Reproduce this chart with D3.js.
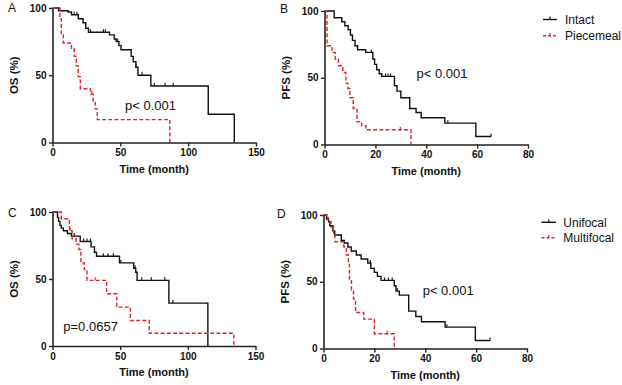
<!DOCTYPE html>
<html><head><meta charset="utf-8">
<script src="https://cdn.jsdelivr.net/npm/d3@7"></script>
<style>
body{margin:0;background:#fff;}
svg{display:block;font-family:"Liberation Sans",Arial,sans-serif;}
</style>
</head><body>
<svg id="chart" width="622" height="385"></svg>
<script>
// ---------- tick labels ----------
const ticksTime150 = [0, 50, 100, 150];
const ticksTime80 = [0, 20, 40, 60, 80];
const ticksPct = [0, 50, 100];

// ---------- legend labels ----------
const legendResection = ["Intact", "Piecemeal"];
const legendFocality = ["Unifocal", "Multifocal"];

// ---------- p values ----------
const pA = "p< 0.001", pB = "p< 0.001", pC = "p=0.0657", pD = "p< 0.001";

// ---------- Panel A: OS by resection (step points [month, %]) ----------
const osIntact = [[0,100],[4.5,98],[11.5,97],[14,95],[19,92],[22.5,89],[24.5,85],[26.5,82],[42,80],[45.5,77],[47,75],[49,72],[50.5,69],[58,64],[59.5,60],[61.5,56],[63,50],[72.5,42],[114.8,21],[134,0]];
const osIntactCensor = [16, 18, 28, 37.5, 39, 48, 61.5, 66, 75, 83, 89];
const osPiecemeal = [[0,100],[5.5,92],[6.5,80],[8,74],[14,70],[16,64],[17.5,57],[19,49],[20.5,40],[28,36],[30,31],[31.5,25],[33,17],[86.5,0]];
const osPiecemealCensor = [29];

// ---------- Panel B: PFS by resection ----------
const pfsIntact = [[0,100],[3.8,95],[6.8,92],[8,89],[9.3,86],[10.2,82],[11,78],[12,74],[13,71],[16.2,69],[19,64],[19.7,60],[20.5,56],[21.5,53],[22.5,51],[27.5,44],[28.5,40],[30,35],[33.5,27],[36,24],[38,20],[47.3,16],[59.5,6],[65.5,6]];
const pfsIntactCensor = [18.4, 24, 25, 26, 48.5, 65.5];
const pfsPiecemeal = [[0,100],[1,74],[3,69],[4.2,64],[5.5,59],[7.2,54],[8.4,46],[9.2,42],[10,35],[11.3,27],[12.8,17],[14.6,14],[16.3,11],[34,0]];
const pfsPiecemealCensor = [29.8];

// ---------- Panel C: OS by focality ----------
const osUnifocal = [[0,100],[3.7,96],[4.5,93],[5.5,90],[6.5,88],[8,86],[11,84],[14,82],[20.5,78],[28.5,74],[31,70],[32.5,67],[49.5,62],[60,58],[61.5,55],[62.5,49],[86,32],[114.8,0]];
const osUnifocalCensor = [16, 23, 25.5, 28, 37.5, 41, 45, 50.5, 61, 66, 73, 83, 89];
const osMultifocal = [[0,100],[6.5,95],[12.5,86],[14.5,80],[17.5,76],[19.5,72],[21,62],[23.5,57],[25.5,49],[40,39],[47.5,29],[57.5,19],[71.5,9.5],[134,0]];
const osMultifocalCensor = [13, 31.5];

// ---------- Panel D: PFS by focality ----------
const pfsUnifocal = [[0,100],[1.2,97],[2,95],[2.5,92],[3.7,88],[4.4,85],[7,81],[8.2,79],[9.6,76],[10.9,73],[12.9,70],[14.8,67],[17.4,64],[18.6,60],[20,57],[21.2,54],[22.6,51],[27.8,47],[28.5,43],[29.8,40],[33.5,28],[36.3,24],[38.5,20],[47.8,16],[59.7,6],[65.5,6]];
const pfsUnifocalCensor = [18.4, 24, 25.5, 27, 29, 48.5, 65.5];
const pfsMultifocal = [[0,100],[1.8,95],[3,91],[4,85],[4.5,80],[8,76],[9,70],[9.8,63],[10.2,52],[11,44],[11.8,37],[12.6,27],[15.8,22],[20,11],[27.8,0]];
const pfsMultifocalCensor = [25];

// ---------- styling / layout ----------
const BLACK = "#111";
const RED = "#d8262c";
const svg = d3.select("#chart");

const panels = [
  {letter:"A", lx:8, ly:11.7, x0:52.5, x1:256, y0:142.5, y1:8, xMax:150, xTicks:ticksTime150, yTitle:"OS (%)",
   s1:osIntact, c1:osIntactCensor, s2:osPiecemeal, c2:osPiecemealCensor, p:pA, px:125, py:109.5, legend:null},
  {letter:"B", lx:280, ly:13.3, x0:324.5, x1:528, y0:144.5, y1:11, xMax:80, xTicks:ticksTime80, yTitle:"PFS (%)",
   s1:pfsIntact, c1:pfsIntactCensor, s2:pfsPiecemeal, c2:pfsPiecemealCensor, p:pB, px:416.5, py:77.5,
   legend:{labels:legendResection, lx0:543, lx1:557, tx:565, ty:19.5, dy:16.3}},
  {letter:"C", lx:8, ly:216.7, x0:52.5, x1:255.5, y0:346, y1:212, xMax:150, xTicks:ticksTime150, yTitle:"OS (%)",
   s1:osUnifocal, c1:osUnifocalCensor, s2:osMultifocal, c2:osMultifocalCensor, p:pC, px:63.3, py:331, legend:null},
  {letter:"D", lx:277, ly:217.5, x0:323.5, x1:527, y0:348.5, y1:215, xMax:80, xTicks:ticksTime80, yTitle:"PFS (%)",
   s1:pfsUnifocal, c1:pfsUnifocalCensor, s2:pfsMultifocal, c2:pfsMultifocalCensor, p:pD, px:422.7, py:295,
   legend:{labels:legendFocality, lx0:541.5, lx1:556, tx:563.3, ty:222.3, dy:15.5}}
];

function survAt(steps, t){
  let s = steps[0][1];
  for (const d of steps){ if (d[0] <= t) s = d[1]; else break; }
  return s;
}

function drawPanel(p){
  const g = svg.append("g");
  const x = d3.scaleLinear().domain([0, p.xMax]).range([p.x0, p.x1]);
  const y = d3.scaleLinear().domain([0, 100]).range([p.y0, p.y1]);
  const line = d3.line().x(d => x(d[0])).y(d => y(d[1])).curve(d3.curveStepAfter);

  // curves
  const series = [
    {steps:p.s1, cens:p.c1, color:BLACK, dash:null},
    {steps:p.s2, cens:p.c2, color:RED, dash:"4,2.2"}
  ];
  series.forEach(s => {
    g.append("path").attr("d", line(s.steps)).attr("fill","none")
      .attr("stroke", s.color).attr("stroke-width", 1.4)
      .attr("stroke-dasharray", s.dash);
    g.selectAll(null).data(s.cens).enter().append("line")
      .attr("x1", d => x(d)).attr("x2", d => x(d))
      .attr("y1", d => y(survAt(s.steps, d))).attr("y2", d => y(survAt(s.steps, d)) - 3)
      .attr("stroke", s.color).attr("stroke-width", 1.1);
  });

  // axes
  const xa = g.append("g").attr("transform", `translate(0,${p.y0})`)
    .call(d3.axisBottom(x).tickValues(p.xTicks).tickSize(4).tickSizeOuter(0).tickPadding(2.5));
  const ya = g.append("g").attr("transform", `translate(${p.x0},0)`)
    .call(d3.axisLeft(y).tickValues(ticksPct).tickSize(3.5).tickSizeOuter(0).tickPadding(2.5));
  [xa, ya].forEach(a => {
    a.select(".domain").attr("stroke", "#222").attr("stroke-width", 1.6);
    a.selectAll(".tick line").attr("stroke", "#222").attr("stroke-width", 1.4);
    a.selectAll(".tick text").attr("fill", "#111").style("font-size", "10px").style("font-weight", "bold")
      .style("font-family", '"Liberation Sans",Arial,sans-serif');
  });

  // axis titles
  g.append("text").attr("x", (p.x0 + p.x1) / 2).attr("y", p.y0 + 30)
    .attr("text-anchor", "middle").attr("font-size", 11).attr("font-weight", "bold").attr("fill", "#111")
    .text("Time (month)");
  g.append("text").attr("transform", `translate(${p.x0 - 35},${(p.y0 + p.y1) / 2}) rotate(-90)`)
    .attr("text-anchor", "middle").attr("font-size", 11.5).attr("font-weight", "bold").attr("fill", "#111")
    .text(p.yTitle);

  // panel letter
  g.append("text").attr("x", p.lx).attr("y", p.ly).attr("font-size", 12).attr("fill", "#111").text(p.letter);

  // p value
  g.append("text").attr("x", p.px).attr("y", p.py).attr("font-size", 13).attr("fill", "#111").text(p.p);

  // legend
  if (p.legend){
    const L = p.legend;
    L.labels.forEach((lab, i) => {
      const yy = L.ty + i * L.dy;
      const col = i === 0 ? BLACK : RED;
      g.append("line").attr("x1", L.lx0).attr("x2", L.lx1).attr("y1", yy).attr("y2", yy)
        .attr("stroke", col).attr("stroke-width", 1.4).attr("stroke-dasharray", i === 0 ? null : "3,2");
      g.append("line").attr("x1", (L.lx0 + L.lx1) / 2).attr("x2", (L.lx0 + L.lx1) / 2)
        .attr("y1", yy).attr("y2", yy - 3).attr("stroke", col).attr("stroke-width", 1.1);
      g.append("text").attr("x", L.tx).attr("y", yy).attr("dy", "0.35em")
        .attr("font-size", 12).attr("fill", "#111").text(lab);
    });
  }
}

panels.forEach(drawPanel);
</script>
</body></html>
